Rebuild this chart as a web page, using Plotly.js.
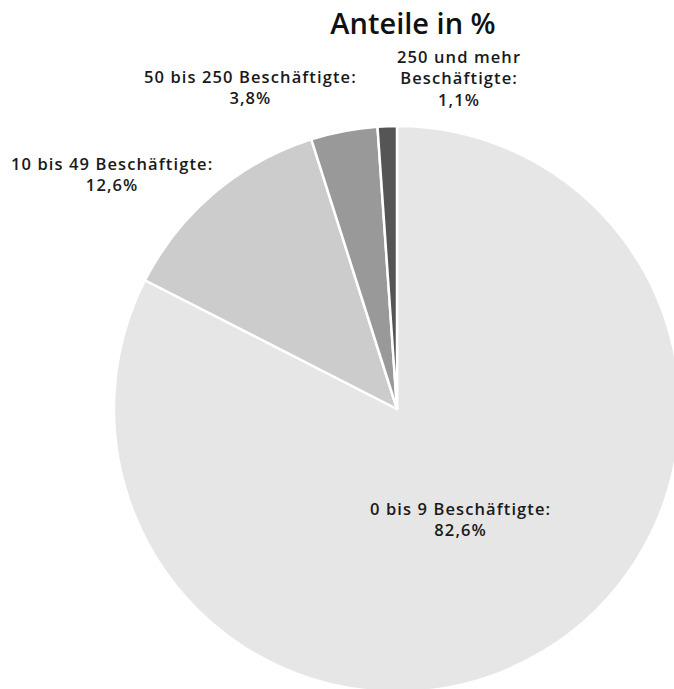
<!DOCTYPE html>
<html>
<head>
<meta charset="utf-8">
<script src="https://cdn.plot.ly/plotly-3.0.1.min.js"></script>
<style>
html, body { margin: 0; padding: 0; overflow: hidden; background: #fff; }
#chart { width: 700px; height: 700px; }
.annotation-text { letter-spacing: 1.1px; }
</style>
</head>
<body>
<div id="chart"></div>
<script>
// Data
const categories = ["0 bis 9 Beschäftigte", "10 bis 49 Beschäftigte", "50 bis 250 Beschäftigte", "250 und mehr<br>Beschäftigte"];
const shares = [82.6, 12.6, 3.8, 1.1];
const titleText = "Anteile in %";

// Styles / positions (pixel positions within 700x700 plot)
const sliceColors = ["#e6e6e6", "#cccccc", "#999999", "#555555"];
const labelPos = [[460, 519], [112, 174], [250, 87], [459, 78]];
const W = 700, H = 700;

function fmt(v) { return v.toFixed(1).replace(".", ",") + "%"; }

const trace = {
  type: "pie",
  labels: categories,
  values: shares,
  sort: false,
  direction: "clockwise",
  rotation: 0,
  textinfo: "none",
  hoverinfo: "label+percent",
  marker: { colors: sliceColors, line: { color: "#ffffff", width: 2.5 } },
  domain: { x: [114 / W, 680 / W], y: [8 / H, 574 / H] },
  showlegend: false
};

const annotations = categories.map((c, i) => ({
  text: c + ":<br>" + fmt(shares[i]),
  x: labelPos[i][0] / W,
  y: 1 - labelPos[i][1] / H,
  xref: "paper", yref: "paper",
  xanchor: "center", yanchor: "middle",
  showarrow: false,
  align: "center",
  font: { family: "Open Sans", size: 16.5, weight: 600, color: "#1a1a1a" }
}));

const layout = {
  width: W, height: H,
  margin: { l: 0, r: 0, t: 0, b: 0 },
  paper_bgcolor: "#ffffff",
  title: {
    text: titleText,
    x: 413 / W, xanchor: "center",
    y: 1 - 24 / H, yanchor: "middle",
    xref: "paper", yref: "container",
    font: { family: "Open Sans", size: 29, weight: 600, color: "#111111" }
  },
  annotations: annotations
};

Plotly.newPlot("chart", [trace], layout, { displayModeBar: false, staticPlot: true });
</script>
</body>
</html>
